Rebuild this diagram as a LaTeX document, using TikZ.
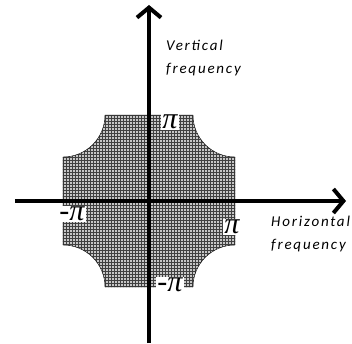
\documentclass[tikz,border=0pt]{standalone}
\usepackage{fontspec}
\setmainfont{Carlito}
\newfontfamily\pifont{Liberation Serif}
\usetikzlibrary{arrows.meta, positioning, patterns}

\begin{document}
\begin{tikzpicture}[
  x=1pt, y=1pt,
  axis/.style={line width=4.5pt, -{Straight Barb[length=10pt, width=24pt, line width=4pt]}},
  pilabel/.style={fill=white, inner sep=1pt, font=\pifont\itshape\fontsize{30}{30}\selectfont},
  axlabel/.style={font=\fontsize{15}{23}\itshape\addfontfeature{LetterSpace=12}, align=left, inner sep=0pt}
]
\useasboundingbox (-149,-142) rectangle (203,201);
% passband region with concave corners
\def\bandpath{(-44,86) -- (44,86) arc[start angle=180, end angle=270, radius=42]
  -- (86,-44) arc[start angle=90, end angle=180, radius=42]
  -- (-44,-86) arc[start angle=0, end angle=90, radius=42]
  -- (-86,44) arc[start angle=270, end angle=360, radius=42] -- cycle}
\fill[gray!45] \bandpath;
\fill[pattern=grid, pattern color=black!75] \bandpath;
\draw[thin] \bandpath;

\coordinate (W) at (-134,0);
\coordinate (E) at (197,0);
\coordinate (S) at (0,-142);
\coordinate (N) at (0,196);
\draw[axis] (W) -- (E);
\draw[axis] (S) -- (N);

\node[pilabel] (pT) at (21,79) {π};
\node[pilabel] (pL) at (-77,-13) {-π};
\node[pilabel] (pR) at (83,-26) {π};
\node[pilabel] (pB) at (21,-84) {-π};

\node[axlabel, anchor=west] (vert) at (17,143) {Vertical\\frequency};
\node[axlabel, anchor=west] (horz) at (122,-33) {Horizontal\\frequency};
\end{tikzpicture}
\end{document}
